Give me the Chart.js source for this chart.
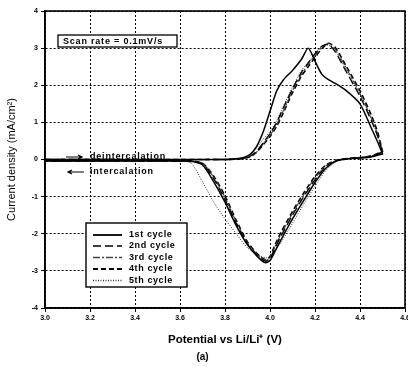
<!DOCTYPE html>
<html>
<head>
<meta charset="utf-8">
<script src="https://cdn.jsdelivr.net/npm/chart.js@4/dist/chart.umd.min.js"></script>
<style>
  body { margin: 0; background: #fff; }
  #wrap { width: 408px; height: 367px; }
</style>
</head>
<body>
<div id="wrap"><canvas id="cvChart" width="408" height="367"></canvas></div>
<script>
// potential grid, forward (anodic) scan 3.0 -> 4.5 V
const anodicV = [3.0, 3.8, 3.85, 3.88, 3.91, 3.94, 3.97, 4.0, 4.03, 4.06, 4.1, 4.14, 4.17, 4.2, 4.23, 4.26, 4.29, 4.34, 4.4, 4.45, 4.48, 4.5];
// potential grid, reverse (cathodic) scan 4.5 -> 3.0 V
const cathodicV = [4.5, 4.45, 4.4, 4.35, 4.3, 4.25, 4.2, 4.15, 4.1, 4.05, 4.02, 4.0, 3.98, 3.95, 3.9, 3.85, 3.8, 3.75, 3.7, 3.65, 3.6, 3.0];

// current density (mA/cm2) per cycle
const cycle1Anodic = [0, 0, 0.02, 0.05, 0.13, 0.35, 0.75, 1.3, 1.85, 2.15, 2.4, 2.7, 3.0, 2.65, 2.3, 2.15, 2.05, 1.85, 1.5, 0.85, 0.45, 0.15];
const cycle2Anodic = [0, 0, 0.01, 0.03, 0.08, 0.22, 0.45, 0.7, 1.0, 1.4, 1.9, 2.35, 2.6, 2.85, 3.05, 3.1, 2.9, 2.35, 1.7, 1.05, 0.6, 0.2];
const cycle3Anodic = [0, 0, 0.01, 0.03, 0.07, 0.2, 0.42, 0.65, 0.95, 1.32, 1.85, 2.3, 2.55, 2.8, 3.02, 3.12, 2.97, 2.45, 1.78, 1.12, 0.65, 0.2];
const cycle4Anodic = [0, 0, 0.01, 0.03, 0.07, 0.19, 0.4, 0.62, 0.9, 1.27, 1.8, 2.25, 2.5, 2.75, 2.98, 3.13, 3.02, 2.5, 1.85, 1.2, 0.7, 0.22];
const cycle5Anodic = [0, 0, 0.02, 0.04, 0.1, 0.3, 0.55, 0.75, 1.05, 1.45, 1.95, 2.4, 2.62, 2.85, 3.05, 3.08, 2.92, 2.4, 1.75, 1.1, 0.62, 0.2];

const cycle1Cathodic = [0.15, 0.07, 0.04, 0.02, -0.03, -0.22, -0.62, -1.1, -1.6, -2.15, -2.5, -2.72, -2.78, -2.65, -2.3, -1.78, -1.15, -0.6, -0.15, -0.05, -0.04, -0.04];
const cycle2Cathodic = [0.2, 0.08, 0.05, 0.03, -0.02, -0.18, -0.55, -1.0, -1.5, -2.05, -2.42, -2.68, -2.74, -2.62, -2.28, -1.72, -1.08, -0.52, -0.12, -0.05, -0.04, -0.04];
const cycle3Cathodic = [0.2, 0.09, 0.05, 0.03, -0.02, -0.16, -0.5, -0.95, -1.45, -2.0, -2.38, -2.65, -2.72, -2.6, -2.25, -1.68, -1.02, -0.48, -0.1, -0.05, -0.04, -0.04];
const cycle4Cathodic = [0.22, 0.1, 0.05, 0.03, -0.01, -0.14, -0.46, -0.9, -1.4, -1.95, -2.33, -2.62, -2.7, -2.58, -2.22, -1.64, -0.98, -0.45, -0.1, -0.05, -0.04, -0.04];
const cycle5Cathodic = [0.2, 0.09, 0.05, 0.02, -0.04, -0.28, -0.72, -1.2, -1.72, -2.22, -2.47, -2.62, -2.65, -2.57, -2.38, -2.0, -1.6, -1.15, -0.6, -0.1, -0.04, -0.04];

const cycleLabels = ["1st cycle", "2nd cycle", "3rd cycle", "4th cycle", "5th cycle"];
const xTicks = [3.0, 3.2, 3.4, 3.6, 3.8, 4.0, 4.2, 4.4, 4.6];

const anodicAll = [cycle1Anodic, cycle2Anodic, cycle3Anodic, cycle4Anodic, cycle5Anodic];
const cathodicAll = [cycle1Cathodic, cycle2Cathodic, cycle3Cathodic, cycle4Cathodic, cycle5Cathodic];

// line styles per cycle
const styles = [
    { color: "#000", width: 1.5, dash: [] },
    { color: "#000", width: 1.3, dash: [8, 4] },
    { color: "#444", width: 1.1, dash: [7, 2, 2, 2] },
    { color: "#000", width: 1.6, dash: [5, 3] },
    { color: "#333", width: 1, dash: [1, 1.5] }
];

const datasets = cycleLabels.map((label, i) => {
    const pts = anodicV.map((v, k) => ({ x: v, y: anodicAll[i][k] }))
        .concat(cathodicV.map((v, k) => ({ x: v, y: cathodicAll[i][k] })));
    return {
        label: label,
        data: pts,
        showLine: true,
        borderColor: styles[i].color,
        borderWidth: styles[i].width,
        borderDash: styles[i].dash,
        pointRadius: 0,
        tension: 0.25,
        fill: false
    };
});

const FONT = "'Liberation Sans', Arial, sans-serif";

// frame, scan-rate box, arrows and legend inside the plot
const decorPlugin = {
    id: "decor",
    afterDraw(chart) {
        const ctx = chart.ctx;
        const a = chart.chartArea;
        ctx.save();
        ctx.setLineDash([]);
        ctx.strokeStyle = "#000";
        ctx.lineWidth = 1.6;
        ctx.strokeRect(a.left, a.top, a.right - a.left, a.bottom - a.top);

        // scan rate box
        ctx.fillStyle = "#fff";
        ctx.fillRect(58, 35, 119, 12);
        ctx.lineWidth = 1.3;
        ctx.strokeRect(58, 35, 119, 12);
        ctx.fillStyle = "#000";
        ctx.font = "bold 9px " + FONT;
        ctx.textBaseline = "middle";
        ctx.textAlign = "left";
        ctx.letterSpacing = "0.8px";
        ctx.fillText("Scan rate = 0.1mV/s", 63, 41.5);

        // direction arrows
        ctx.lineWidth = 1.2;
        ctx.beginPath();
        ctx.moveTo(66, 157); ctx.lineTo(82, 157);
        ctx.moveTo(78, 155); ctx.lineTo(82, 157); ctx.lineTo(78, 159);
        ctx.moveTo(68, 172); ctx.lineTo(84, 172);
        ctx.moveTo(72, 170); ctx.lineTo(68, 172); ctx.lineTo(72, 174);
        ctx.stroke();
        ctx.fillText("deintercalation", 90, 157);
        ctx.fillText("intercalation", 90, 172);

        // legend
        const lx = 86, ly = 223, lw = 101, lh = 64;
        ctx.fillStyle = "#fff";
        ctx.fillRect(lx, ly, lw, lh);
        ctx.lineWidth = 1.4;
        ctx.strokeRect(lx, ly, lw, lh);
        ctx.fillStyle = "#000";
        ctx.letterSpacing = "0.6px";
        const rows = [235, 246, 257.5, 269, 280.5];
        cycleLabels.forEach((label, i) => {
            ctx.strokeStyle = styles[i].color;
            ctx.lineWidth = styles[i].width + 0.3;
            ctx.setLineDash(styles[i].dash);
            ctx.beginPath();
            ctx.moveTo(93, rows[i]); ctx.lineTo(122, rows[i]);
            ctx.stroke();
            ctx.fillText(label, 129, rows[i]);
        });
        ctx.restore();
    }
};

const ctx = document.getElementById("cvChart").getContext("2d");
new Chart(ctx, {
    type: "scatter",
    data: { datasets: datasets },
    options: {
        responsive: false,
        animation: false,
        layout: { padding: { top: 11, right: 3, left: 0, bottom: 0 } },
        plugins: {
            legend: { display: false },
            tooltip: { enabled: false },
            title: {
                display: true,
                position: "bottom",
                text: "(a)",
                color: "#000",
                font: { family: FONT, size: 10, weight: "bold" },
                padding: { top: 4, bottom: 4 }
            }
        },
        scales: {
            x: {
                type: "linear",
                min: 3.0,
                max: 4.6,
                afterBuildTicks: s => { s.ticks = xTicks.map(v => ({ value: v })); },
                afterFit: s => { s.height = 39; s.paddingLeft = 0; s.paddingRight = 0; },
                ticks: {
                    color: "#000",
                    padding: 2,
                    maxRotation: 0,
                    font: { family: FONT, size: 7, weight: "bold" },
                    callback: v => v.toFixed(1)
                },
                grid: { color: "#000", lineWidth: 1, tickLength: 4 },
                border: { color: "#000", width: 1.6, dash: [2, 2] },
                title: {
                    display: true,
                    text: "Potential vs Li/Li⁺ (V)",
                    color: "#000",
                    font: { family: FONT, size: 11.5, weight: "bold" },
                    padding: { top: 0, bottom: 0 }
                }
            },
            y: {
                min: -4,
                max: 4,
                afterFit: s => { s.width = 45; },
                ticks: {
                    stepSize: 1,
                    color: "#000",
                    padding: 3,
                    font: { family: FONT, size: 7, weight: "bold" }
                },
                grid: { color: "#000", lineWidth: 1, tickLength: 4 },
                border: { color: "#000", width: 1.6, dash: [2, 2] },
                title: {
                    display: true,
                    text: "Current density (mA/cm²)",
                    color: "#000",
                    font: { family: FONT, size: 11 },
                    padding: { top: 5, bottom: 0 }
                }
            }
        }
    },
    plugins: [decorPlugin]
});
</script>
</body>
</html>
